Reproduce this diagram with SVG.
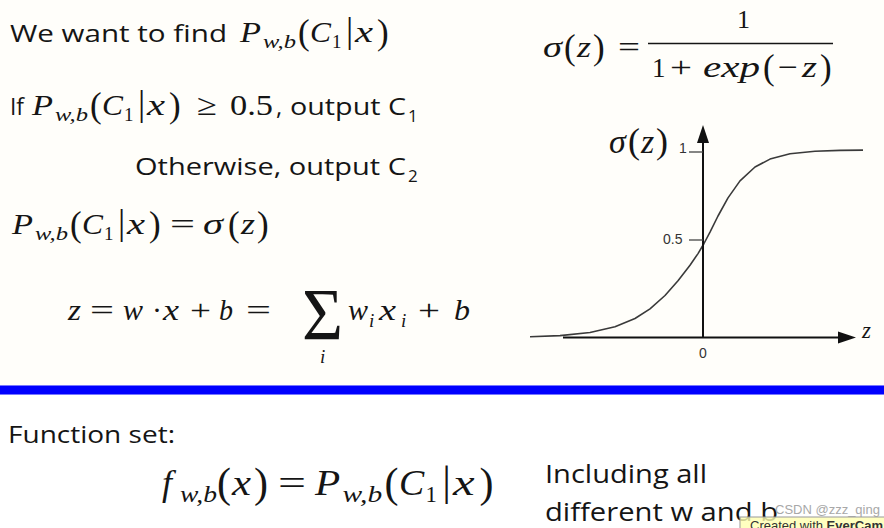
<svg xmlns="http://www.w3.org/2000/svg" width="884" height="528" viewBox="0 0 884 528">
<defs>
<style>
.t{font-family:'Open Sans','Noto Sans',sans-serif;font-size:24px;fill:#151515}
.m{font-family:'Liberation Serif','DejaVu Serif',serif;font-size:30px;fill:#151515}
.i{font-style:italic}
.s{font-size:19px}
.p{font-size:35px}
.v{font-size:36px}
.ax{stroke:#111;stroke-width:2;fill:none}
.lbl{font-family:'Liberation Sans',Arial,sans-serif;font-size:14px;fill:#333}
</style>
</defs>
<rect x="0" y="0" width="884" height="528" fill="#ffffff"/>
<rect x="0" y="0" width="884" height="385" fill="#fffefa"/>

<g id="line1">
<text class="t" x="10" y="42" textLength="217" lengthAdjust="spacingAndGlyphs">We want to find</text>
<g transform="translate(240,42)">
<text class="m i" x="0" y="0" textLength="21" lengthAdjust="spacingAndGlyphs">P</text>
<text class="m i s" x="23" y="6" textLength="33" lengthAdjust="spacingAndGlyphs">w,b</text>
<text class="m p" x="58" y="2">(</text>
<text class="m i" x="70" y="0" textLength="21" lengthAdjust="spacingAndGlyphs">C</text>
<text class="m s" x="92" y="6">1</text>
<text class="m v" x="106" y="0">|</text>
<text class="m i" x="115" y="0" textLength="18" lengthAdjust="spacingAndGlyphs">x</text>
<text class="m p" x="137" y="2">)</text>
</g>
</g>

<g id="line2">
<text class="t" x="10" y="115" textLength="14" lengthAdjust="spacingAndGlyphs">If</text>
<g transform="translate(32,115)">
<text class="m i" x="0" y="0" textLength="21" lengthAdjust="spacingAndGlyphs">P</text>
<text class="m i s" x="23" y="6" textLength="33" lengthAdjust="spacingAndGlyphs">w,b</text>
<text class="m p" x="58" y="2">(</text>
<text class="m i" x="70" y="0" textLength="21" lengthAdjust="spacingAndGlyphs">C</text>
<text class="m s" x="92" y="6">1</text>
<text class="m v" x="106" y="0">|</text>
<text class="m i" x="115" y="0" textLength="18" lengthAdjust="spacingAndGlyphs">x</text>
<text class="m p" x="137" y="2">)</text>
</g>
<text class="m" x="197" y="115" textLength="20" lengthAdjust="spacingAndGlyphs">≥</text>
<text class="m" x="230" y="115" textLength="43" lengthAdjust="spacingAndGlyphs">0.5</text>
<text class="t" x="276" y="115">,</text>
<text class="t" x="290" y="115" textLength="116" lengthAdjust="spacingAndGlyphs">output C</text>
<text class="t" x="408" y="122" style="font-size:17px">1</text>
</g>

<g id="line3">
<text class="t" x="135" y="175" textLength="271" lengthAdjust="spacingAndGlyphs">Otherwise, output C</text>
<text class="t" x="408" y="182" style="font-size:17px">2</text>
</g>

<g id="line4">
<g transform="translate(12,234)">
<text class="m i" x="0" y="0" textLength="21" lengthAdjust="spacingAndGlyphs">P</text>
<text class="m i s" x="23" y="6" textLength="33" lengthAdjust="spacingAndGlyphs">w,b</text>
<text class="m p" x="58" y="2">(</text>
<text class="m i" x="70" y="0" textLength="21" lengthAdjust="spacingAndGlyphs">C</text>
<text class="m s" x="92" y="6">1</text>
<text class="m v" x="106" y="0">|</text>
<text class="m i" x="115" y="0" textLength="18" lengthAdjust="spacingAndGlyphs">x</text>
<text class="m p" x="137" y="2">)</text>
</g>
<text class="m" x="170" y="234" textLength="25" lengthAdjust="spacingAndGlyphs">=</text>
<text class="m i" x="203" y="234" textLength="20" lengthAdjust="spacingAndGlyphs">σ</text>
<text class="m p" x="228" y="236">(</text>
<text class="m i" x="241" y="234" textLength="14" lengthAdjust="spacingAndGlyphs">z</text>
<text class="m p" x="257" y="236">)</text>
</g>

<g id="line5">
<text class="m i" x="68" y="320" textLength="13" lengthAdjust="spacingAndGlyphs">z</text>
<text class="m" x="90" y="320" textLength="24" lengthAdjust="spacingAndGlyphs">=</text>
<text class="m i" x="123" y="320" textLength="20" lengthAdjust="spacingAndGlyphs">w</text>
<text class="m" x="152" y="320">·</text>
<text class="m i" x="163" y="320" textLength="16" lengthAdjust="spacingAndGlyphs">x</text>
<text class="m" x="190" y="320" textLength="21" lengthAdjust="spacingAndGlyphs">+</text>
<text class="m i" x="219" y="320" textLength="14" lengthAdjust="spacingAndGlyphs">b</text>
<text class="m" x="246" y="320" textLength="25" lengthAdjust="spacingAndGlyphs">=</text>
<text class="m" x="302" y="340" style="font-size:74px" textLength="41" lengthAdjust="spacingAndGlyphs">Σ</text>
<text class="m i s" x="320" y="363">i</text>
<text class="m i" x="348" y="320" textLength="20" lengthAdjust="spacingAndGlyphs">w</text>
<text class="m i s" x="369" y="327">i</text>
<text class="m i" x="379" y="320" textLength="17" lengthAdjust="spacingAndGlyphs">x</text>
<text class="m i s" x="401" y="327">i</text>
<text class="m" x="418" y="320" textLength="22" lengthAdjust="spacingAndGlyphs">+</text>
<text class="m i" x="454" y="320" textLength="16" lengthAdjust="spacingAndGlyphs">b</text>
</g>

<g id="sigmoid-formula">
<text class="m i" x="543" y="57" textLength="19" lengthAdjust="spacingAndGlyphs">σ</text>
<text class="m p" x="564" y="59">(</text>
<text class="m i" x="577" y="57" textLength="14" lengthAdjust="spacingAndGlyphs">z</text>
<text class="m p" x="593" y="59">)</text>
<text class="m" x="618" y="57" textLength="22" lengthAdjust="spacingAndGlyphs">=</text>
<line x1="648" y1="43.5" x2="833" y2="43.5" stroke="#151515" stroke-width="1.6"/>
<text class="m" x="737" y="28" style="font-size:26px">1</text>
<text class="m" x="652" y="77" style="font-size:27px">1</text>
<text class="m" x="670" y="77" textLength="22" lengthAdjust="spacingAndGlyphs">+</text>
<text class="m i" x="703" y="77" textLength="57" lengthAdjust="spacingAndGlyphs">exp</text>
<text class="m p" x="763" y="79">(</text>
<text class="m" x="778" y="77" textLength="20" lengthAdjust="spacingAndGlyphs">−</text>
<text class="m i" x="802" y="77" textLength="15" lengthAdjust="spacingAndGlyphs">z</text>
<text class="m p" x="820" y="79">)</text>
</g>

<g id="sigmoid-plot">
<polyline fill="none" stroke="#3a3a3a" stroke-width="1.6" stroke-linejoin="round" points="530,336.8 560,335.6 590,332.5 615,326.8 635,318.5 650,308.8 665,295.5 678,280.7 690,265.2 698,253.6 704,243.5 710,232.1 718,216 728,197.9 740,180.9 755,167 770,159.1 790,153.8 815,151.3 840,150.4 863,150.1"/>
<line class="ax" x1="563" y1="337.5" x2="842" y2="337.5"/>
<polygon points="856,337.5 838,331.5 838,343.5" fill="#111"/>
<line class="ax" x1="703" y1="338" x2="703" y2="140"/>
<polygon points="703,125 697,143 709,143" fill="#111"/>
<line x1="689" y1="152" x2="703" y2="152" stroke="#444" stroke-width="1.3"/>
<line x1="689" y1="240" x2="703" y2="240" stroke="#444" stroke-width="1.3"/>
<text class="lbl" x="679" y="153">1</text>
<text class="lbl" x="663" y="244">0.5</text>
<text class="lbl" x="699" y="358">0</text>
<text class="m i" x="609" y="153" style="font-size:34px">σ</text>
<text class="m" x="628" y="153" style="font-size:36px">(</text>
<text class="m i" x="641" y="153" style="font-size:34px">z</text>
<text class="m" x="656" y="153" style="font-size:36px">)</text>
<text class="m i" x="862" y="338" style="font-size:23px">z</text>
</g>

<g id="divider">
<rect x="0" y="385" width="884" height="10" fill="#7878ff"/>
<rect x="0" y="386" width="884" height="8" fill="#0000ff"/>
</g>

<g id="function-set">
<text class="t" x="8" y="443" textLength="167" lengthAdjust="spacingAndGlyphs">Function set:</text>
<text class="m i" x="162" y="495" style="font-size:36px">f</text>
<text class="m i" x="180" y="502" style="font-size:23px" textLength="37" lengthAdjust="spacingAndGlyphs">w,b</text>
<text class="m" x="217" y="497" style="font-size:42px">(</text>
<text class="m i" x="232" y="495" style="font-size:36px" textLength="19" lengthAdjust="spacingAndGlyphs">x</text>
<text class="m" x="254" y="497" style="font-size:42px">)</text>
<text class="m" x="278" y="495" style="font-size:36px" textLength="28" lengthAdjust="spacingAndGlyphs">=</text>
<g transform="translate(315,495) scale(1.2)">
<text class="m i" x="0" y="0" textLength="21" lengthAdjust="spacingAndGlyphs">P</text>
<text class="m i s" x="23" y="6" textLength="33" lengthAdjust="spacingAndGlyphs">w,b</text>
<text class="m p" x="58" y="2">(</text>
<text class="m i" x="70" y="0" textLength="21" lengthAdjust="spacingAndGlyphs">C</text>
<text class="m s" x="92" y="6">1</text>
<text class="m v" x="106" y="0">|</text>
<text class="m i" x="115" y="0" textLength="18" lengthAdjust="spacingAndGlyphs">x</text>
<text class="m p" x="137" y="2">)</text>
</g>
<text class="t" x="545" y="483" style="font-size:26px" textLength="162" lengthAdjust="spacingAndGlyphs">Including all</text>
<text class="t" x="545" y="521" style="font-size:26px" textLength="233" lengthAdjust="spacingAndGlyphs">different w and b</text>
</g>

<g id="watermark">
<text x="775" y="514" font-family="'Liberation Sans',Arial,sans-serif" font-size="13" fill="#a8a8a8">CSDN @zzz_qing</text>
<rect x="740" y="517" width="150" height="16" fill="#ffffb0" fill-opacity="0.8" stroke="#9a9a9a" stroke-width="1"/>
<text x="750" y="530" font-family="'Liberation Sans',Arial,sans-serif" font-size="13" fill="#333">Created with <tspan font-weight="bold">EverCam</tspan></text>
</g>
</svg>
